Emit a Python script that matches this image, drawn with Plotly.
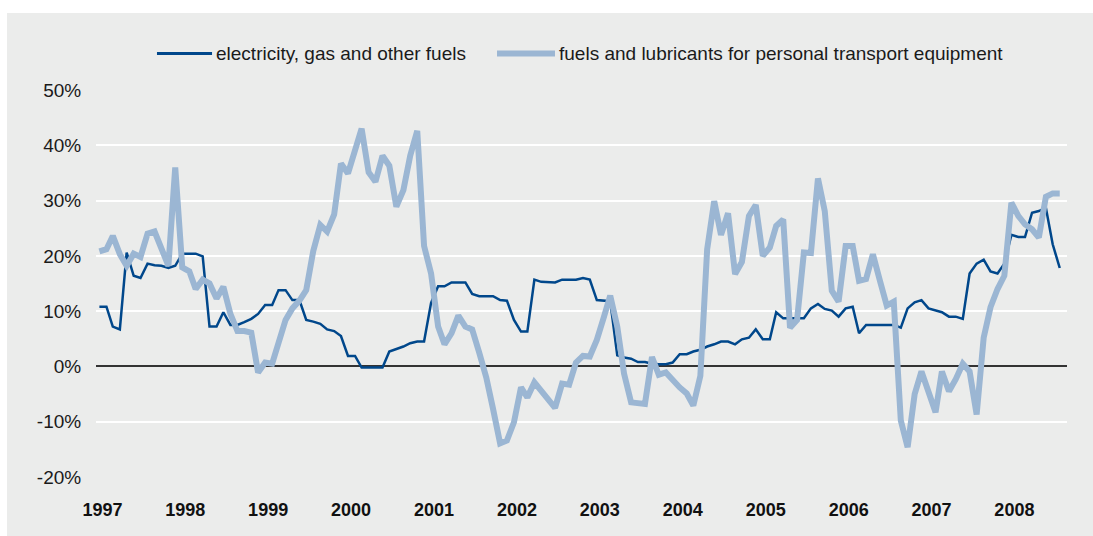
import pandas as pd
import plotly.graph_objects as go

# monthly year-on-year change, Jan 1997 - Aug 2008 (%)
months = pd.date_range("1997-01-01", periods=140, freq="MS")

electricity = [
    10.8, 10.8, 7.2, 6.7, 20.6, 16.4, 16.0, 18.6, 18.3, 18.2, 17.8, 18.2,   # 1997
    20.4, 20.4, 20.4, 19.9, 7.2, 7.2, 9.8, 7.5, 7.5, 8.0, 8.6, 9.5,         # 1998
    11.1, 11.1, 13.8, 13.8, 12.0, 12.0, 8.4, 8.1, 7.7, 6.7, 6.4, 5.5,       # 1999
    1.9, 1.9, -0.2, -0.2, -0.2, -0.2, 2.7, 3.1, 3.6, 4.2, 4.5, 4.5,         # 2000
    11.5, 14.5, 14.5, 15.2, 15.2, 15.2, 13.1, 12.7, 12.7, 12.7, 12.0, 11.9, # 2001
    8.4, 6.3, 6.3, 15.7, 15.3, 15.2, 15.2, 15.7, 15.7, 15.7, 16.0, 15.7,    # 2002
    12.0, 11.9, 11.8, 2.0, 1.6, 1.4, 0.8, 0.8, 0.5, 0.4, 0.4, 0.7,          # 2003
    2.2, 2.2, 2.7, 3.0, 3.6, 4.0, 4.5, 4.5, 4.0, 4.9, 5.2, 6.7,             # 2004
    4.9, 4.9, 9.8, 8.7, 8.7, 8.7, 8.7, 10.5, 11.3, 10.4, 10.1, 9.0,         # 2005
    10.5, 10.8, 6.0, 7.5, 7.5, 7.5, 7.5, 7.5, 7.0, 10.5, 11.6, 12.0,        # 2006
    10.5, 10.2, 9.8, 9.0, 9.0, 8.6, 16.8, 18.6, 19.3, 17.2, 16.8, 18.6,     # 2007
    23.8, 23.4, 23.4, 27.8, 28.1, 28.7, 22.1, 17.8,                         # 2008
]

fuels = [
    20.8, 21.2, 23.6, 20.3, 18.2, 20.4, 19.8, 24.0, 24.4, 21.2, 18.2, 36.0,
    17.9, 17.2, 14.0, 15.7, 15.0, 12.3, 14.4, 9.5, 6.4, 6.4, 6.1, -1.1,
    0.7, 0.5, 4.6, 8.4, 10.5, 11.9, 13.8, 20.9, 25.6, 24.4, 27.5, 36.7,
    34.9, 39.0, 43.0, 35.1, 33.4, 38.1, 36.3, 28.9, 31.9, 38.1, 42.6, 21.8,
    16.8, 7.2, 4.0, 6.0, 9.2, 7.2, 6.7, 2.5, -2.0, -7.7, -13.9, -13.4,
    -10.1, -3.8, -5.6, -2.9, -4.4, -6.1, -7.5, -3.1, -3.3, 0.7, 1.9, 1.8,
    4.8, 8.9, 12.8, 7.2, -1.3, -6.5, -6.7, -6.8, 1.7, -1.5, -1.1, -2.5,
    -3.8, -4.9, -7.1, -1.7, 21.2, 29.9, 23.8, 27.7, 16.7, 18.9, 27.2, 29.2,
    20.0, 21.5, 25.4, 26.6, 7.0, 8.4, 20.6, 20.5, 34.0, 28.1, 13.7, 11.7,
    21.8, 21.8, 15.5, 15.8, 20.3, 15.5, 11.0, 11.7, -9.8, -14.6, -5.0, -0.9,
    -5.0, -8.3, -0.9, -4.5, -2.3, 0.5, -0.9, -8.7, 5.2, 10.7, 14.0, 16.4,
    29.6, 27.2, 25.7, 24.8, 23.3, 30.7, 31.3, 31.3,
]

series_names = [
    "electricity, gas and other fuels",
    "fuels and lubricants for personal transport equipment",
]

y_ticks = [-20, -10, 0, 10, 20, 30, 40, 50]
y_labels = ["-20%", "-10%", "0%", "10%", "20%", "30%", "40%", "50%"]

DARK = "#00478b"
LIGHT = "#9bb6d3"
BG = "#ebeceb"

fig = go.Figure()

fig.add_trace(go.Scatter(
    x=months, y=electricity, mode="lines", name=series_names[0],
    line=dict(color=DARK, width=2.5), showlegend=False,
))
fig.add_trace(go.Scatter(
    x=months, y=fuels, mode="lines", name=series_names[1],
    line=dict(color=LIGHT, width=6), showlegend=False,
))

# grey panel behind everything, leaving a thin white strip top and left
fig.add_shape(
    type="rect", xref="paper", yref="paper", layer="below",
    x0=-0.0917, x1=1.04, y0=-0.17, y1=1.199,
    fillcolor=BG, line_width=0,
)

# legend drawn by hand so the keys have the long line swatches of the original
legend_y = 1.094
legend_keys = [(0.0628, 0.1195, DARK, 3), (0.413, 0.4727, LIGHT, 6)]
for (x0, x1, color, w), name in zip(legend_keys, series_names):
    fig.add_shape(
        type="line", xref="paper", yref="paper",
        x0=x0, x1=x1, y0=legend_y, y1=legend_y,
        line=dict(color=color, width=w),
    )
    fig.add_annotation(
        xref="paper", yref="paper", x=x1 + 0.0025, y=legend_y,
        xanchor="left", yanchor="middle", text=name, showarrow=False,
        font=dict(size=19, color="#1a1a1a"),
    )

fig.update_layout(
    width=1093, height=536,
    margin=dict(l=96, r=26, t=90, b=59),
    paper_bgcolor="white",
    plot_bgcolor=BG,
    font=dict(family="Liberation Sans, Arial, sans-serif", size=19, color="#1a1a1a"),
    showlegend=False,
)

fig.update_xaxes(
    range=["1996-12-17", "2008-09-02"],
    dtick="M12", tickformat="%Y", tick0="1997-01-01",
    showgrid=False, zeroline=False, showline=False,
    ticks="outside", ticklen=16, tickcolor="rgba(0,0,0,0)",
    ticklabelshift=3,
    tickfont=dict(size=18, weight="bold", color="#111"),
)
fig.update_yaxes(
    range=[-20, 50], tickvals=y_ticks, ticktext=y_labels,
    showgrid=True, gridcolor="white", gridwidth=2,
    zeroline=True, zerolinecolor="#333", zerolinewidth=1.5,
    showline=False,
    ticks="outside", ticklen=10, tickcolor="rgba(0,0,0,0)",
    tickfont=dict(size=19, color="#1a1a1a"),
)

# drop the default page margin so the figure fills the window exactly
fig.write_html(
    "out.html",
    config={"displayModeBar": False},
    post_script="document.body.style.margin='0';document.body.style.overflow='hidden';",
)
